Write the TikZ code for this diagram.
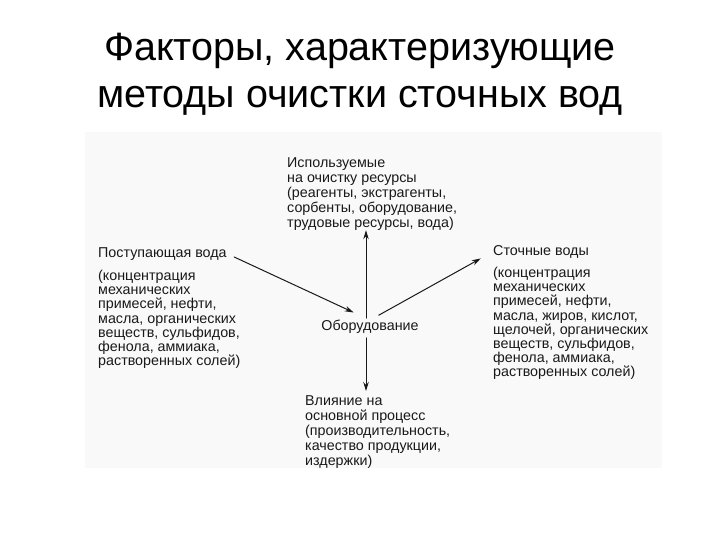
\documentclass[tikz,border=0pt]{standalone}
\usepackage{fontspec}
\setmainfont{Liberation Sans}
\usetikzlibrary{arrows.meta}
\tikzset{
    factorsbase/.style={
        x=1pt, y=-1pt,
        >={Stealth[length=9pt,width=5.5pt]},
        line cap = round, line join = round,
    },
    blocktext/.style={anchor=north west, inner sep=0pt, align=left,
        font=\fontsize{14.3}{14.2}\selectfont, text=black!90},
    wideblock/.style={blocktext, font=\fontsize{14.3}{15}\selectfont},
    flowarrow/.style={->, line width=1pt, black!90},
}
\newcommand{\titlefont}{\fontsize{39.5}{47}\selectfont}

\begin{document}
\begin{tikzpicture}
            [factorsbase]
            \useasboundingbox (0,0) rectangle (720,540);
            \fill[white] (0,0) rectangle (720,540);
            \fill[gray!5] (85,132) rectangle (662,468);
            \node[align=center, anchor=north, font=\titlefont] (title) at (360,30)
                {Факторы, характеризующие\\методы очистки сточных вод};
            % blocks round the equipment
            \node[wideblock] (resources) at (287,157)
                {Используемые\\на очистку ресурсы\\(реагенты, экстрагенты,\\сорбенты, оборудование,\\трудовые ресурсы, вода)};
            \node[blocktext] (inflowhead) at (98,247) {Поступающая вода};
            \node[blocktext] (inflow) at (98,270)
                {(концентрация\\механических\\примесей, нефти,\\масла, органических\\веществ, сульфидов,\\фенола, аммиака,\\растворенных солей)};
            \node[blocktext] (effluenthead) at (493,245) {Сточные воды};
            \node[blocktext] (effluent) at (493,267)
                {(концентрация\\механических\\примесей, нефти,\\масла, жиров, кислот,\\щелочей, органических\\веществ, сульфидов,\\фенола, аммиака,\\растворенных солей)};
            \node[blocktext, anchor=center] (equipment) at (370,327) {Оборудование};
            \node[wideblock] (impact) at (305,395)
                {Влияние на\\основной процесс\\(производительность,\\качество продукции,\\издержки)};
            % arrows
            \draw[flowarrow, shorten <=8pt, shorten >=18pt] (inflowhead.east) -- (equipment.north);
            \draw[flowarrow, shorten <=2pt] ([xshift=-4pt]equipment.north) -- ([xshift=-4pt]equipment.north |- resources.south);
            \draw[flowarrow, shorten <=10pt, shorten >=14pt] (equipment.north) -- (effluenthead.west);
            \draw[flowarrow, shorten <=4pt, shorten >=4pt] ([xshift=-4pt]equipment.south) -- ([xshift=-4pt]equipment.south |- impact.north);
        \end{tikzpicture}
\end{document}
